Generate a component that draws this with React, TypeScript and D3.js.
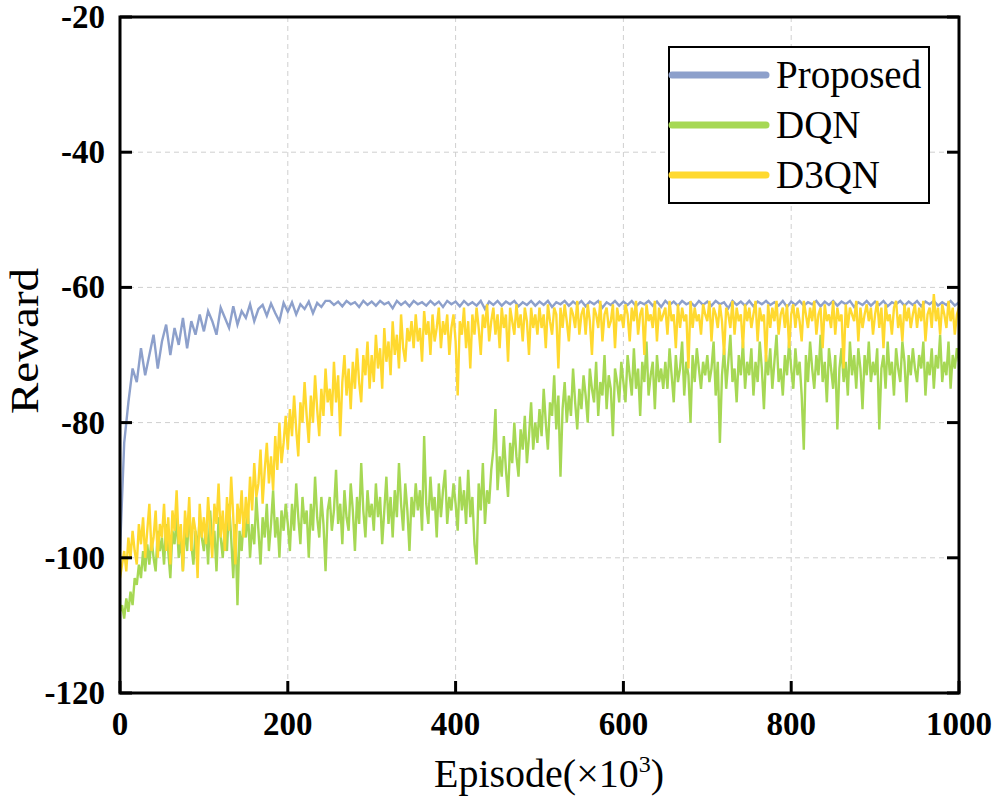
import React from "react";
import * as d3 from "d3";

// Episode axis (×10^3)
const episodesCoarse: number[] = d3.range(0, 1001, 5); // Proposed: one sample every 5
const episodesFine: number[] = d3.range(0, 1000.1, 2.5); // DQN / D3QN: one sample every 2.5

const proposed: number[] = [
  -99, -83, -77, -72, -74, -69, -73, -70, -67, -72,
  -68, -65.5, -70, -66, -68.5, -64.5, -69, -65, -67, -64,
  -66.5, -63.5, -65, -67, -63, -64.5, -66, -62.8, -65.5, -63.5,
  -64.5, -62.5, -65, -63.2, -62.6, -64.2, -62.4, -63.8, -65, -62.3,
  -63.6, -62.2, -64, -62.5, -63.2, -62.1, -63.8, -62.3, -62.9, -62,
  -62, -62.6, -62.1, -62.8, -62, -62.5, -62.2, -62.9, -62, -62.6,
  -62.1, -62.7, -62, -62.5, -62.2, -63.1, -62, -62.6, -62.1, -62.8,
  -62, -62.5, -62.2, -62.7, -62, -62.6, -62.1, -62.9, -62, -62.5,
  -62.1, -62.8, -62, -62.6, -62.2, -62.7, -62, -63.2, -62.1, -62.6,
  -62, -62.7, -62.1, -62.5, -62, -62.8, -62.2, -62.6, -62, -62.7,
  -62.1, -62.6, -62, -62.9, -62.2, -62.5, -62, -62.7, -62.1, -62.6,
  -62, -62.8, -62.1, -62.5, -62, -63, -62.2, -62.6, -62, -62.7,
  -62.1, -62.6, -62, -62.8, -62.2, -62.5, -62, -62.7, -62.1, -62.9,
  -62, -62.6, -62.1, -62.7, -62, -62.5, -62.2, -62.8, -62, -62.6,
  -62.1, -62.7, -62, -62.5, -62.2, -63.1, -62, -62.6, -62.1, -62.7,
  -62, -62.8, -62.1, -62.5, -62, -62.6, -62.2, -62.7, -62, -62.9,
  -62.1, -62.6, -62, -62.7, -62.2, -62.5, -62, -62.8, -62.1, -62.6,
  -62, -62.7, -62.1, -62.5, -62, -62.9, -62.2, -62.6, -62, -62.7,
  -62.1, -62.6, -62, -62.8, -62.2, -62.5, -62, -62.7, -62.1, -62.6,
  -62, -62.8, -62.1, -62.5, -62, -62.7, -62.2, -62.6, -62, -62.7,
  -62.2,
];

const dqn: number[] = [
  -108, -107, -109, -106, -108, -105, -107, -103, -104, -101, -103, -99, -102, -98, -101, -97, -100, -102, -96, -99,
  -97, -101, -95, -99, -103, -96, -98, -94, -100, -97, -102, -95, -99, -93, -98, -101, -96, -99, -94, -97,
  -99, -95, -101, -93, -98, -96, -102, -94, -97, -100, -95, -99, -92, -97, -103, -95, -107, -96, -99, -94,
  -97, -93, -100, -95, -98, -91, -96, -101, -94, -97, -92, -99, -95, -90, -97, -94, -100, -93, -96, -92,
  -95, -99, -92, -96, -89, -94, -98, -91, -95, -93, -100, -92, -96, -88, -94, -97, -91, -95, -102, -93,
  -91, -96, -93, -87, -95, -92, -98, -90, -94, -96, -89, -93, -99, -91, -95, -86, -93, -97, -90, -94,
  -92, -96, -89, -94, -91, -98, -93, -88, -95, -91, -97, -90, -94, -86, -92, -96, -89, -93, -99, -91,
  -94, -89, -93, -90, -96, -82, -92, -95, -88, -93, -91, -97, -89, -94, -90, -87, -95, -91, -93, -89,
  -92, -96, -88, -93, -90, -95, -87, -94, -91, -98, -101, -89, -93, -86, -95, -90, -92, -87, -84, -78,
  -90, -85, -88, -82, -87, -91, -83, -86, -80, -85, -88, -81, -84, -79, -86, -82, -77, -84, -80, -83,
  -78, -82, -75, -80, -84, -77, -79, -73, -81, -76, -88, -78, -74, -80, -76, -79, -72, -77, -81, -75,
  -78, -73, -76, -80, -72, -75, -77, -71, -79, -74, -76, -70, -78, -73, -75, -82, -72, -74, -77, -71,
  -74, -77, -70, -73, -76, -69, -75, -72, -79, -71, -74, -68, -76, -73, -71, -78, -70, -74, -72, -75,
  -71, -75, -69, -73, -77, -70, -74, -72, -68, -76, -71, -73, -80, -70, -74, -69, -72, -75, -71, -73,
  -70, -74, -72, -68, -76, -71, -83, -73, -69, -75, -71, -67, -74, -72, -77, -70, -73, -68, -75, -71,
  -73, -69, -76, -71, -74, -68, -72, -78, -70, -73, -69, -75, -71, -67, -74, -72, -76, -70, -73, -68,
  -72, -75, -69, -73, -71, -76, -84, -70, -74, -68, -72, -75, -70, -73, -67, -74, -71, -77, -69, -72,
  -75, -70, -81, -72, -69, -74, -71, -76, -68, -73, -70, -75, -69, -72, -78, -70, -73, -68, -74, -71,
  -73, -69, -81, -72, -70, -75, -68, -73, -71, -76, -69, -72, -74, -68, -71, -77, -70, -73, -69, -72,
  -74, -70, -72, -68, -76, -71, -73, -69, -75, -70, -72, -67, -74, -71, -73, -68, -75, -70, -72, -69,
  -71,
];

const d3qn: number[] = [
  -103, -101, -99, -102, -97, -100, -96, -99, -101, -95, -98, -94, -100, -96, -92, -99, -97, -93, -100, -95,
  -97, -92, -99, -94, -101, -93, -96, -90, -98, -95, -102, -93, -97, -91, -99, -94, -96, -103, -92, -97,
  -94, -98, -91, -96, -100, -92, -95, -89, -97, -93, -99, -91, -96, -88, -94, -101, -92, -95, -90, -97,
  -91, -95, -88, -93, -86, -91, -89, -84, -92, -87, -83, -89, -85, -90, -82, -87, -80, -86, -83, -79,
  -84, -78, -82, -76, -81, -85, -77, -80, -74, -79, -83, -76, -80, -73, -78, -82, -75, -79, -72, -77,
  -75, -79, -71, -77, -73, -82, -74, -70, -76, -72, -78, -71, -75, -69, -74, -77, -70, -73, -68, -75,
  -70, -74, -67, -72, -69, -75, -66, -71, -68, -73, -65, -70, -67, -72, -64, -69, -71, -66, -68, -65,
  -69, -64, -68, -66, -71, -63.5, -67, -65, -70, -64, -68, -66, -63, -69, -65, -67, -64, -70, -66, -64,
  -68, -76, -65, -67, -63, -69, -65, -72, -64, -67, -63, -66, -70, -64, -66, -62.5, -68, -65, -63, -67,
  -64, -69, -63, -66, -64, -71, -63, -65, -67, -62.5, -66, -64, -68, -63, -65, -70, -63, -66, -64, -67,
  -63, -66, -64, -69, -62.5, -65, -67, -63, -64, -72, -63, -66, -62.5, -65, -68, -63, -64, -66, -62, -67,
  -64, -63, -67, -62.5, -65, -70, -63, -64, -66, -62, -68, -64, -63, -66, -65, -62.5, -69, -63, -65, -64,
  -66, -62.5, -64, -68, -63, -65, -62, -67, -64, -63, -70, -62.5, -65, -64, -66, -62, -68, -63, -65, -64,
  -63, -67, -62, -65, -64, -69, -62.5, -66, -63, -65, -64, -72, -62, -66, -63, -65, -64, -67, -62.5, -64,
  -65, -62, -68, -63, -64, -66, -62.5, -65, -70, -63, -64, -66, -62, -67, -63, -65, -64, -69, -62.5, -65,
  -63, -66, -64, -62, -68, -63, -65, -64, -71, -62.5, -66, -63, -65, -62, -67, -64, -63, -66, -62.5, -69,
  -64, -62.5, -66, -63, -65, -68, -62, -64, -66, -63, -65, -62, -67, -64, -63, -69, -62.5, -65, -64, -66,
  -62, -67, -63, -65, -64, -72, -62.5, -66, -63, -64, -65, -62, -68, -63, -66, -64, -62.5, -65, -63, -67,
  -64, -62, -66, -63, -69, -62.5, -65, -64, -67, -63, -62, -66, -64, -68, -62.5, -65, -63, -66, -64, -62.5,
  -66, -63, -65, -62, -68, -64, -63, -66, -61, -65, -63, -67, -62.5, -64, -66, -62, -65, -63, -67, -64,
  -63,
];

const seriesNames = ["Proposed", "DQN", "D3QN"];
const seriesColors = ["#8da0cb", "#a6d854", "#ffd92f"];
const seriesValues = [proposed, dqn, d3qn];
const seriesEpisodes = [episodesCoarse, episodesFine, episodesFine];

const xTicks = [0, 200, 400, 600, 800, 1000];
const yTicks = [-120, -100, -80, -60, -40, -20];

const W = 996;
const H = 800;
const M = { left: 120, right: 959, top: 17, bottom: 693 };

export default function App() {
  const x = d3.scaleLinear().domain([0, 1000]).range([M.left, M.right]);
  const y = d3.scaleLinear().domain([-120, -20]).range([M.bottom, M.top]);

  const serif = "'Liberation Serif', 'Times New Roman', serif";
  const legendX = 672;
  const legendY0 = 75;
  const legendDy = 50;

  return (
    <div style={{ position: "absolute", left: 0, top: 0 }}>
      <svg width={W} height={H} style={{ display: "block", background: "#fff" }}>
        <defs>
          <clipPath id="plot">
            <rect x={M.left} y={M.top} width={M.right - M.left} height={M.bottom - M.top} />
          </clipPath>
        </defs>
        {/* grid */}
        {xTicks.filter((t) => t !== 0 && t !== 1000).map((t) => (
          <line key={"gx" + t} x1={x(t)} x2={x(t)} y1={M.top} y2={M.bottom}
            stroke="#cfcfcf" strokeWidth={1} strokeDasharray="5,4" />
        ))}
        {yTicks.filter((t) => t !== -120 && t !== -20).map((t) => (
          <line key={"gy" + t} x1={M.left} x2={M.right} y1={y(t)} y2={y(t)}
            stroke="#cfcfcf" strokeWidth={1} strokeDasharray="5,4" />
        ))}
        {/* data */}
        <g clipPath="url(#plot)">
          {seriesValues.map((vals, k) => {
            const eps = seriesEpisodes[k];
            const line = d3
              .line<number>()
              .x((_, i) => x(eps[i]))
              .y((v) => y(v));
            return (
              <path key={seriesNames[k]} d={line(vals) || ""} fill="none"
                stroke={seriesColors[k]} strokeWidth={2.4} strokeLinejoin="miter" />
            );
          })}
        </g>
        {/* frame */}
        <rect x={M.left} y={M.top} width={M.right - M.left} height={M.bottom - M.top}
          fill="none" stroke="#000" strokeWidth={3} />
        {/* ticks */}
        {xTicks.map((t) => (
          <line key={"tx" + t} x1={x(t)} x2={x(t)} y1={M.bottom} y2={M.bottom - 12}
            stroke="#000" strokeWidth={3} />
        ))}
        {yTicks.map((t) => (
          <g key={"ty" + t}>
            <line x1={M.left} x2={M.left + 12} y1={y(t)} y2={y(t)} stroke="#000" strokeWidth={3} />
            <line x1={M.right} x2={M.right - 12} y1={y(t)} y2={y(t)} stroke="#000" strokeWidth={3} />
          </g>
        ))}
        {/* tick labels */}
        {xTicks.map((t) => (
          <text key={"lx" + t} x={x(t)} y={735} textAnchor="middle"
            fontFamily={serif} fontWeight="bold" fontSize={33}>{t}</text>
        ))}
        {yTicks.map((t) => (
          <text key={"ly" + t} x={105} y={y(t) + 11} textAnchor="end"
            fontFamily={serif} fontWeight="bold" fontSize={33}>{t}</text>
        ))}
        {/* axis titles */}
        <text x={549} y={787} textAnchor="middle" fontFamily={serif} fontSize={40}>
          Episode(×10<tspan dy={-15} fontSize={24}>3</tspan><tspan dy={15}>)</tspan>
        </text>
        <text transform={`translate(38,341) rotate(-90)`} textAnchor="middle"
          fontFamily={serif} fontSize={41} textLength={146} lengthAdjust="spacingAndGlyphs">Reward</text>
        {/* legend */}
        <rect x={669} y={47} width={260} height={156} fill="#fff" stroke="#000" strokeWidth={2} />
        {seriesNames.map((name, k) => (
          <g key={"lg" + name}>
            <line x1={legendX} x2={legendX + 94} y1={legendY0 + k * legendDy} y2={legendY0 + k * legendDy}
              stroke={seriesColors[k]} strokeWidth={7} strokeLinecap="round" />
            <text x={776} y={legendY0 + k * legendDy + 13} fontFamily={serif} fontSize={39}>{name}</text>
          </g>
        ))}
      </svg>
    </div>
  );
}
